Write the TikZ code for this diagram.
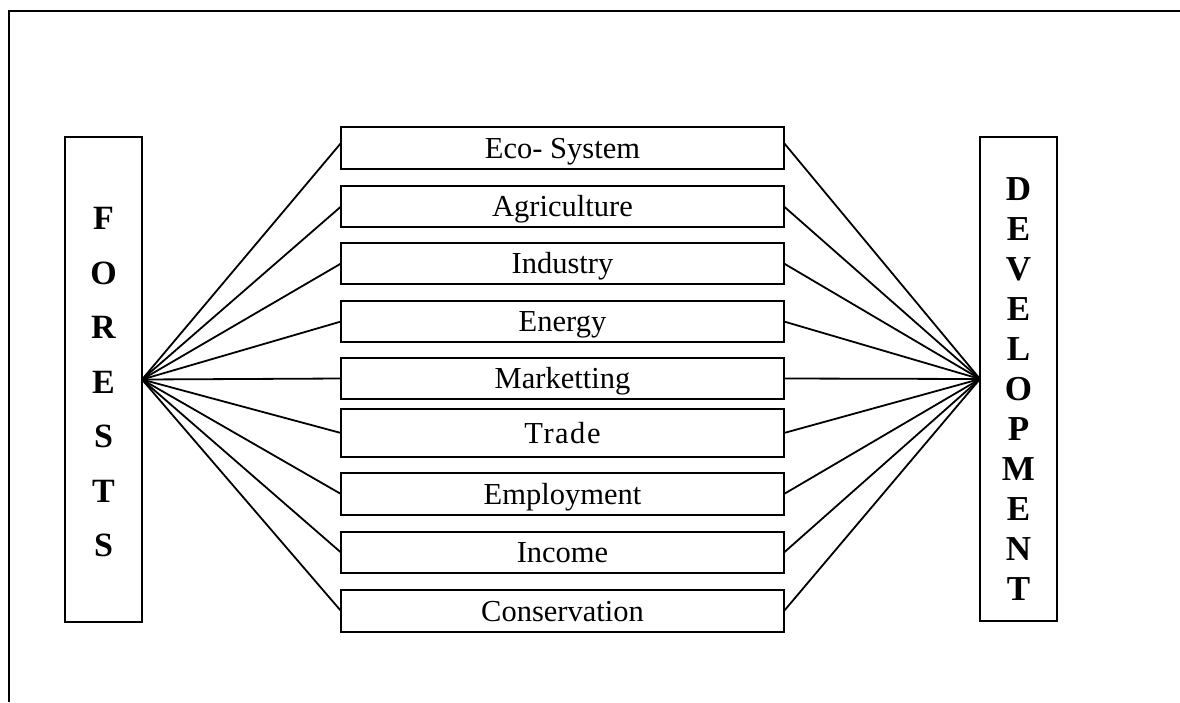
\documentclass[tikz,border=0pt]{standalone}
\usepackage{fontspec}
\setmainfont{Liberation Serif}
\begin{document}
\begin{tikzpicture}[x=1pt,y=-1pt,
  frame/.style={line width=1.7pt},
  sidebox/.style={draw,line width=2.1pt,minimum width=77pt,minimum height=485pt,
    inner sep=0pt,outer sep=0pt},
  letters/.style={align=center,inner sep=0pt},
  itembox/.style={draw,line width=2.1pt,minimum width=443pt,minimum height=42pt,
    inner sep=0pt,outer sep=0pt,text height=20pt,text depth=0pt,
    font=\fontsize{30.5}{34}\selectfont},
  link/.style={line width=1.8pt}]
\useasboundingbox (0,0) rectangle (1180,702);

% page frame (top and left edges only)
\draw[frame] (1180,11) -- (9,11) -- (9,702);

% side boxes
\node[sidebox] (forests) at (103.5,379.5) {};
\node[letters,font=\bfseries\fontsize{34}{54.5}\selectfont]
  (forestsText) at ([yshift=-3pt]forests.center) {F\\O\\R\\E\\S\\T\\S};
\node[sidebox,minimum height=484pt] (dev) at (1018.5,379) {};
\node[letters,font=\bfseries\fontsize{35}{40}\selectfont]
  (devText) at ([yshift=-10pt]dev.center) {D\\E\\V\\E\\L\\O\\P\\M\\E\\N\\T};

% middle boxes
\node[itembox] (eco)  at (562.5,148)   {Eco- System};
\node[itembox,minimum height=41pt] (agr)  at (562.5,206.5) {Agriculture};
\node[itembox,minimum height=41pt] (ind)  at (562.5,263.5) {Industry};
\node[itembox,minimum height=41pt] (ene)  at (562.5,321.5) {Energy};
\node[itembox,minimum height=41pt] (mar)  at (562.5,378.5) {Marketting};
\node[itembox,minimum height=48pt] (tra)  at (562.5,433)   {\addfontfeature{LetterSpace=5}Trade};
\node[itembox] (emp)  at (562.5,494)   {Employment};
\node[itembox,minimum height=41pt] (inc)  at (562.5,552.5) {Income};
\node[itembox] (con)  at (562.5,611)   {Conservation};

% connectors
\draw[link] (forests.east) -- ([yshift=5pt]eco.west);
\draw[link] (dev.west) -- ([yshift=5pt]eco.east);
\foreach \n in {agr,ind,ene,mar,tra,emp,inc,con}{
  \draw[link] (forests.east) -- (\n.west);
  \draw[link] (dev.west) -- (\n.east);
}
\end{tikzpicture}
\end{document}
